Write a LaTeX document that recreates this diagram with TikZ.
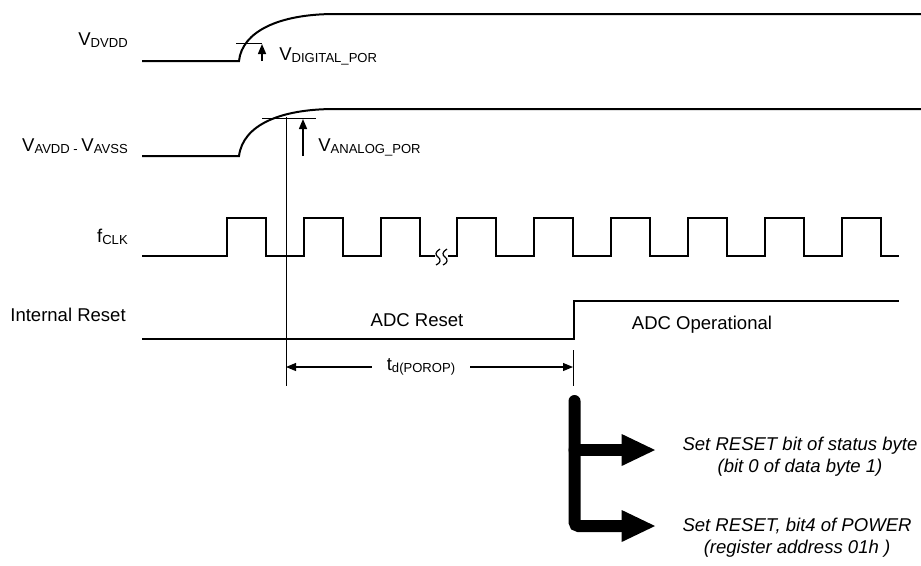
\documentclass[tikz,border=0pt]{standalone}
\usepackage{fontspec}
\setmainfont{Liberation Sans}
\usetikzlibrary{arrows.meta}
\newcommand{\subs}[1]{\raisebox{-1.5pt}{\fontsize{9.8pt}{11pt}\selectfont #1}}
\begin{document}
\begin{tikzpicture}[x=0.75pt, y=-0.75pt,
      % --- STYLES ---
      every node/.style={font=\fontsize{13.9pt}{16.5pt}\selectfont, inner sep=0pt},
      sig-line/.style={line width=1.5pt},
      sig-thin/.style={line width=0.6pt},
      sig-arrow/.style={line width=1.1pt, -{Triangle[length=7.5pt, width=6pt]}},
      dim-line/.style={line width=0.8pt, -{Triangle[length=7.5pt, width=6pt]}},
      big-arrow/.style={line width=9pt, line cap=round, rounded corners=3pt, -{Triangle[length=25pt, width=24pt, line width=0pt]}},
      squig/.style={line width=0.9pt},
      lbl/.style={anchor=base east},
      note/.style={font=\fontsize{13.9pt}{16.5pt}\selectfont\itshape, align=center}
  ]
    \useasboundingbox (0,0) rectangle (921,565);
    %
    % 1. Signal names
    \node[lbl] (n-dvdd) at (128,45) {V\subs{DVDD}};
    \node[lbl] (n-avdd) at (128,151) {V\subs{AVDD - }V\subs{AVSS}};
    \node[lbl] (n-clk) at (128,242) {f\subs{CLK}};
    \node[lbl] (n-rst) at (126,321) {Internal Reset};
    %
    % 2. Supply ramps
    \draw[sig-line] (142,61) -- (239,61) .. controls (242,32) and (278,14) .. (335,14) -- (921,14);
    \draw[sig-line] (142,156) -- (239,156) .. controls (243,125) and (280,109) .. (335,109) -- (921,109);
    %
    % 3. POR thresholds
    \coordinate (dpor-lo) at (262,61);
    \coordinate (dpor-hi) at (262,44);
    \coordinate (apor-lo) at (303,156);
    \coordinate (apor-hi) at (303,119);
    \draw[sig-thin] (236,43) -- (262,43);
    \draw[sig-arrow] (dpor-lo) -- (dpor-hi);
    \node[anchor=base west] (n-dpor) at (279,60) {V\subs{DIGITAL\_POR}};
    \draw[sig-thin] (262,118) -- (316,118);
    \draw[sig-arrow] (apor-lo) -- (apor-hi);
    \node[anchor=base west] (n-apor) at (318,151) {V\subs{ANALOG\_POR}};
    %
    % 4. Clock
    \draw[sig-line] (142,256) \foreach \x in {227,304,381} { -- (\x,256) -- (\x,218) -- (\x+39,218) -- (\x+39,256) } -- (435,256);
    \draw[sig-line] (448,256) \foreach \x in {457,534,611,688,765,842} { -- (\x,256) -- (\x,218) -- (\x+39,218) -- (\x+39,256) } -- (899,256);
    \foreach \s in {438,445} {
      \draw[squig] (\s+2,249) .. controls (\s-3,252) and (\s-3,255) .. (\s,257) .. controls (\s+3,259) and (\s+3,263) .. (\s-2,265);
    }
    %
    % 5. Internal reset
    \draw[sig-line] (142,339) -- (574,339) -- (574,301) -- (899,301);
    \node[anchor=base] (n-adcrst) at (417,326) {ADC Reset};
    \node[anchor=base] (n-adcop) at (702,329) {ADC Operational};
    %
    % 6. Reset delay
    \coordinate (apor) at (286,117);
    \coordinate (d1) at (286,367);
    \coordinate (d2) at (573,367);
    \draw[sig-thin] (apor) -- (286,386);
    \draw[sig-thin] (573,350) -- (573,386);
    \node[inner xsep=11pt] (n-td) at (421,367) {t\subs{d(POROP)}};
    \draw[dim-line] (n-td.west) -- (d1);
    \draw[dim-line] (n-td.east) -- (d2);
    %
    % 7. Reset flags
    \coordinate (bus) at (574.5,401);
    \coordinate (tip1) at (655,450);
    \coordinate (tip2) at (655,526);
    \draw[big-arrow] (bus) |- (tip2);
    \draw[big-arrow] (bus |- tip1) -- (tip1);
    \node[note] (flag1) at (800,457) {Set RESET bit of status byte\\(bit 0 of data byte 1)};
    \node[note] (flag2) at (797,538) {Set RESET, bit4 of POWER\\(register address 01h )};
  \end{tikzpicture}
\end{document}
